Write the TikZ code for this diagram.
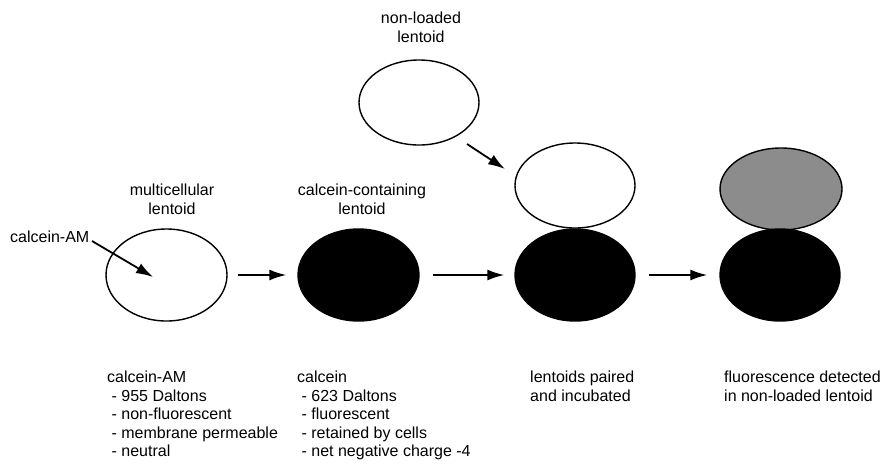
\documentclass[tikz,border=0pt]{standalone}
\usepackage{fontspec}
\setmainfont{Liberation Sans}
\usetikzlibrary{shapes.geometric,arrows.meta}
\begin{document}
\begin{tikzpicture}[x=1pt,y=-1pt,
  ell/.style={ellipse,draw=black,line width=1.4pt,inner sep=0pt,minimum width=121pt,minimum height=92pt},
  blk/.style={fill=black},
  grey/.style={fill=black!45},
  wht/.style={fill=white},
  arr/.style={line width=1.8pt,-{Latex[length=17pt,width=11pt]}},
  lbl/.style={font=\fontsize{16}{19}\selectfont,align=center,inner sep=0pt},
  lst/.style={font=\fontsize{16}{18.5}\selectfont,align=left,inner sep=0pt,anchor=north west}]
\useasboundingbox (0,0) rectangle (890,464);
% top non-loaded
\node[lbl] (tnl) at (421,27.5) {non-loaded\\lentoid};
\node[ell,wht,minimum width=120pt,minimum height=85pt] (top) at (419,102.5) {};
% stage 1
\node[lbl] (t1) at (172,199) {multicellular\\lentoid};
\node[ell,wht] (e1) at (166.5,275) {};
\node[lbl,anchor=west] (cam) at (10,237) {calcein-AM};
\coordinate (c0) at (92,241);
\coordinate (c1) at (153,277);
% stage 2
\node[lbl] (t2) at (362,199) {calcein-containing\\lentoid};
\node[ell,blk] (e2) at (358.5,275) {};
% stage 3
\node[ell,wht,minimum width=120pt,minimum height=85pt] (e3t) at (575,185.5) {};
\node[ell,blk,minimum width=120pt] (e3) at (575,275) {};
% stage 4
\node[ell,grey,minimum width=122pt,minimum height=82pt] (e4t) at (781,189) {};
\node[ell,blk,minimum width=120pt] (e4) at (780,275) {};
% arrows
\coordinate (c2) at (467,144);
\coordinate (c3) at (505,169);
\draw[arr] (c0) -- (c1);
\draw[arr] (c2) -- (c3);
\draw[arr] ([xshift=10pt]e1.east) -- ([xshift=-11pt]e2.west);
\draw[arr] ([xshift=13pt]e2.east) -- ([xshift=-10pt]e3.west);
\draw[arr] ([xshift=13pt]e3.east) -- ([xshift=-12pt]e4.west);
% bottom texts
\node[lst] (b1) at (107,371) {calcein-AM\\\ - 955 Daltons\\\ - non-fluorescent\\\ - membrane permeable\\\ - neutral};
\node[lst] (b2) at (297,371) {calcein\\\ - 623 Daltons\\\ - fluorescent\\\ - retained by cells\\\ - net negative charge -4};
\node[lst] (b3) at (530,371) {lentoids paired\\and incubated};
\node[lst] (b4) at (724,371) {fluorescence detected\\in non-loaded lentoid};
\end{tikzpicture}
\end{document}
